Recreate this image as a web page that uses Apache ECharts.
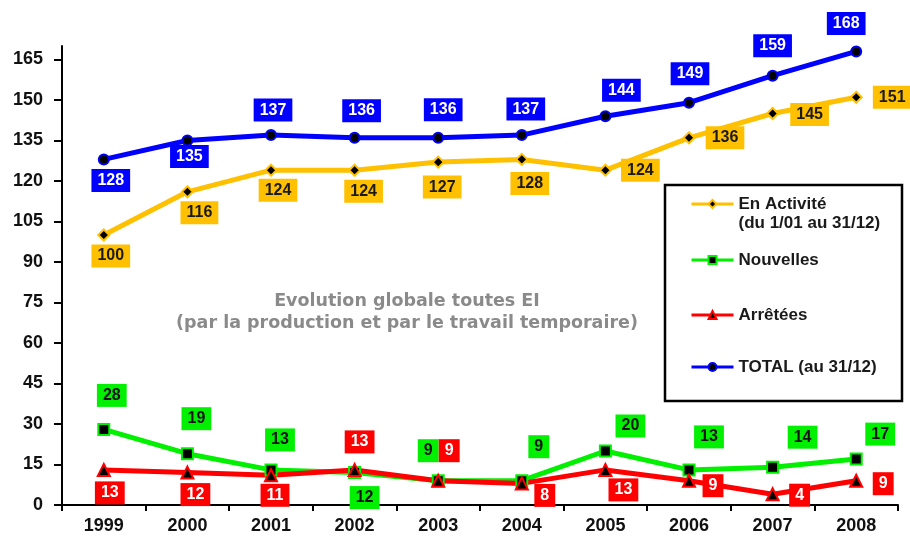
<!DOCTYPE html>
<html><head><meta charset="utf-8">
<script src="https://cdn.jsdelivr.net/npm/echarts@6/dist/echarts.min.js"></script>
<style>html,body{margin:0;padding:0;background:#fff}#c{width:910px;height:542px}</style>
</head><body><div id="c"></div>
<script>
// ---- data ----
const years = ['1999','2000','2001','2002','2003','2004','2005','2006','2007','2008'];
const enActivite = [100,116,124,124,127,128,124,136,145,151];
const nouvelles  = [28,19,13,12,9,9,20,13,14,17];
const arretees   = [13,12,11,13,9,8,13,9,4,9];
const total      = [128,135,137,136,136,137,144,149,159,168];
const yTicks = [0,15,30,45,60,75,90,105,120,135,150,165];
const seriesNames = ['En Activité','Nouvelles','Arrêtées','TOTAL (au 31/12)'];
const activiteSub = '(du 1/01 au 31/12)';
const titleLines = ['Evolution globale toutes EI','(par la production et par le travail temporaire)'];

// ---- layout (label offsets relative to each point, px) ----
const offActivite  = [[7,21],[12,21],[7,20],[9,21],[4,25],[8,24],[35,0],[36,0],[37,1],[36,0]];
const offNouvelles = [[8,-34],[9,-35],[9,-30],[10,25],[-10,-30],[17,-34],[25,-25],[20,-33],[30,-30],[24,-25]];
const offArretees  = [[6,23],[8,22],[4,20],[5,-28],[11,-30],[23,12],[18,20],[24,5],[27,1],[27,3]];
const offTotal     = [[7,21],[2,16],[2,-25],[7,-27],[5,-28],[4,-26],[16,-26],[1,-29],[0,-30],[-10,-28]];

const FONT = '"Liberation Sans", Arial, sans-serif';
function mk(values, offs){ return values.map((v,i)=>({value:v, label:{offset:offs[i]}})); }
function series(name, values, offs, color, txt, symbol, size){
  return {
    name, type:'line', data: mk(values, offs),
    symbol, symbolSize:size, showAllSymbol:true,
    lineStyle:{color, width:5},
    itemStyle:{color:'#000', borderColor:color, borderWidth:2},
    label:{show:true, position:'inside', backgroundColor:color, color:txt,
      fontFamily:FONT, fontWeight:'bold', fontSize:16, lineHeight:17, padding:[3,6]},
    emphasis:{disabled:true}, animation:false
  };
}
const legendBase = {orient:'vertical', left:690, padding:0, itemWidth:42, itemHeight:10,
  lineStyle:{width:3}, selectedMode:false,
  textStyle:{fontFamily:FONT, fontWeight:'bold', fontSize:17, color:'#1a1a1a', lineHeight:19}};

const chart = echarts.init(document.getElementById('c'), null, {renderer:'canvas'});
chart.setOption({
  backgroundColor:'#fff',
  animation:false,
  grid:{left:62, right:12, top:46, bottom:37},
  xAxis:{type:'category', data:years, boundaryGap:true,
    axisLine:{lineStyle:{color:'#000', width:2}},
    axisTick:{show:true, length:6, lineStyle:{color:'#000', width:2}},
    axisLabel:{margin:12, fontFamily:FONT, fontWeight:'bold', fontSize:18, color:'#111'}},
  yAxis:{type:'value', min:0, max:170, interval:15,
    axisLine:{show:true, lineStyle:{color:'#000', width:2}},
    axisTick:{show:true, length:8, lineStyle:{color:'#000', width:2}, customValues:yTicks},
    axisLabel:{margin:19, fontFamily:FONT, fontWeight:'bold', fontSize:18, color:'#111', customValues:yTicks},
    splitLine:{show:false}},
  legend:[
    Object.assign({}, legendBase, {data:[seriesNames[0]], top:175.5,
      formatter:(n)=> '\n' + n + '\n' + activiteSub}),
    Object.assign({}, legendBase, {data:[seriesNames[1]], top:250.5}),
    Object.assign({}, legendBase, {data:[seriesNames[2]], top:305.5}),
    Object.assign({}, legendBase, {data:[seriesNames[3]], top:357.5})
  ],
  graphic:[
    {type:'rect', z:0, shape:{x:665, y:185, width:237, height:216},
      style:{fill:'#fff', stroke:'#000', lineWidth:2.5}},
    {type:'text', x:407, y:312, z:1,
      style:{text:titleLines.join('\n'), align:'center', verticalAlign:'middle',
        font:'bold 17.5px "DejaVu Sans", sans-serif', lineHeight:22, fill:'#8a8a8a'}}
  ],
  series:[
    series(seriesNames[0], enActivite, offActivite, '#ffc000', '#1a1a1a', 'diamond', 11),
    series(seriesNames[1], nouvelles, offNouvelles, '#00f000', '#111', 'rect', 11),
    series(seriesNames[2], arretees, offArretees, '#ff0000', '#fff', 'triangle', 12),
    series(seriesNames[3], total, offTotal, '#0000ff', '#fff', 'circle', 10)
  ]
});
</script></body></html>
